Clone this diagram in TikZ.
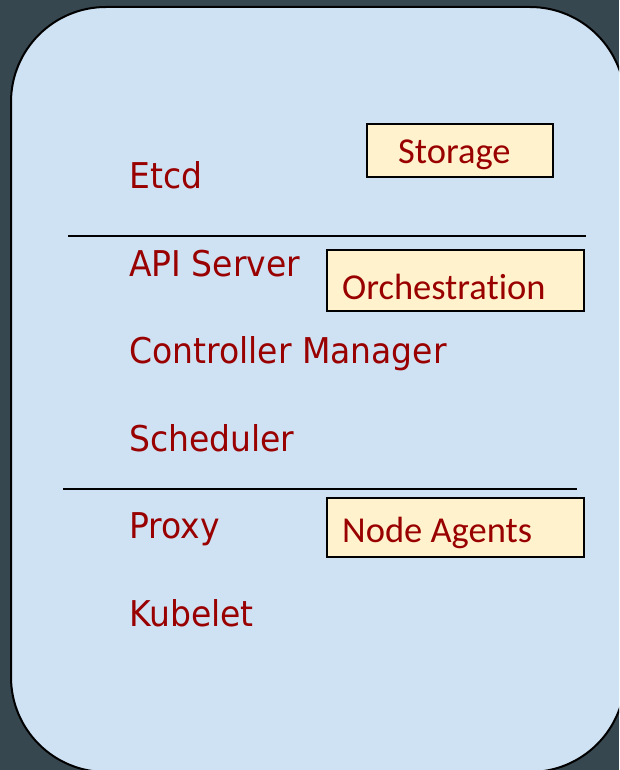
\documentclass[tikz,border=0pt]{standalone}
\usepackage{fontspec}
\newfontfamily\lblfont[FakeStretch=0.93]{DejaVu Sans}
\newfontfamily\boxfont[Ligatures={NoCommon}]{Carlito}
\definecolor{bgdark}{RGB}{55,71,79}
\definecolor{panelblue}{RGB}{207,226,243}
\definecolor{tagfill}{RGB}{255,242,204}
\definecolor{darkred}{RGB}{153,0,0}
\tikzset{
  complabel/.style={anchor=base west, inner sep=0pt, text=darkred, font=\lblfont\fontsize{35.5}{40}\selectfont},
  tagbox/.style={draw=black, line width=1.5pt, fill=tagfill, inner sep=0pt},
  taglabel/.style={anchor=base west, inner sep=0pt, text=darkred, font=\boxfont\fontsize{36.5}{40}\selectfont},
  divider/.style={draw=black, line width=2pt}
}
\begin{document}
\begin{tikzpicture}[x=1pt,y=-1pt]
\useasboundingbox (0,0) rectangle (619,770);
\fill[bgdark] (0,0) rectangle (619,770);
\begin{scope}
\clip (0,0) rectangle (619,770);
\draw[fill=panelblue, line width=2pt, rounded corners=95pt] (11,7) rectangle (625,772);
\end{scope}
% dividers
\coordinate (d1a) at (68,235.5);
\coordinate (d1b) at (586,235.5);
\coordinate (d2a) at (63,489);
\coordinate (d2b) at (577,489);
\draw[divider] (d1a) -- (d1b);
\draw[divider] (d2a) -- (d2b);
% tag boxes
\path[tagbox] (367,124) rectangle (553,177);
\path[tagbox] (327,250) rectangle (584,311);
\path[tagbox] (327,498) rectangle (584,557);
\node[taglabel] (storage) at (398,164) {Storage};
\node[taglabel] (orch) at (342,299) {Orchestrat\kern0pt ion};
\node[taglabel] (agents) at (342,542) {Node Agents};
% component labels
\node[complabel] (etcd) at (129,188) {Etcd};
\node[complabel] (api) at (129,276) {API Server};
\node[complabel] (cm) at (129,363.5) {Controller Manager};
\node[complabel] (sched) at (129,451) {Scheduler};
\node[complabel] (proxy) at (129,538.5) {Proxy};
\node[complabel] (kubelet) at (129,626) {Kubelet};
\end{tikzpicture}
\end{document}
